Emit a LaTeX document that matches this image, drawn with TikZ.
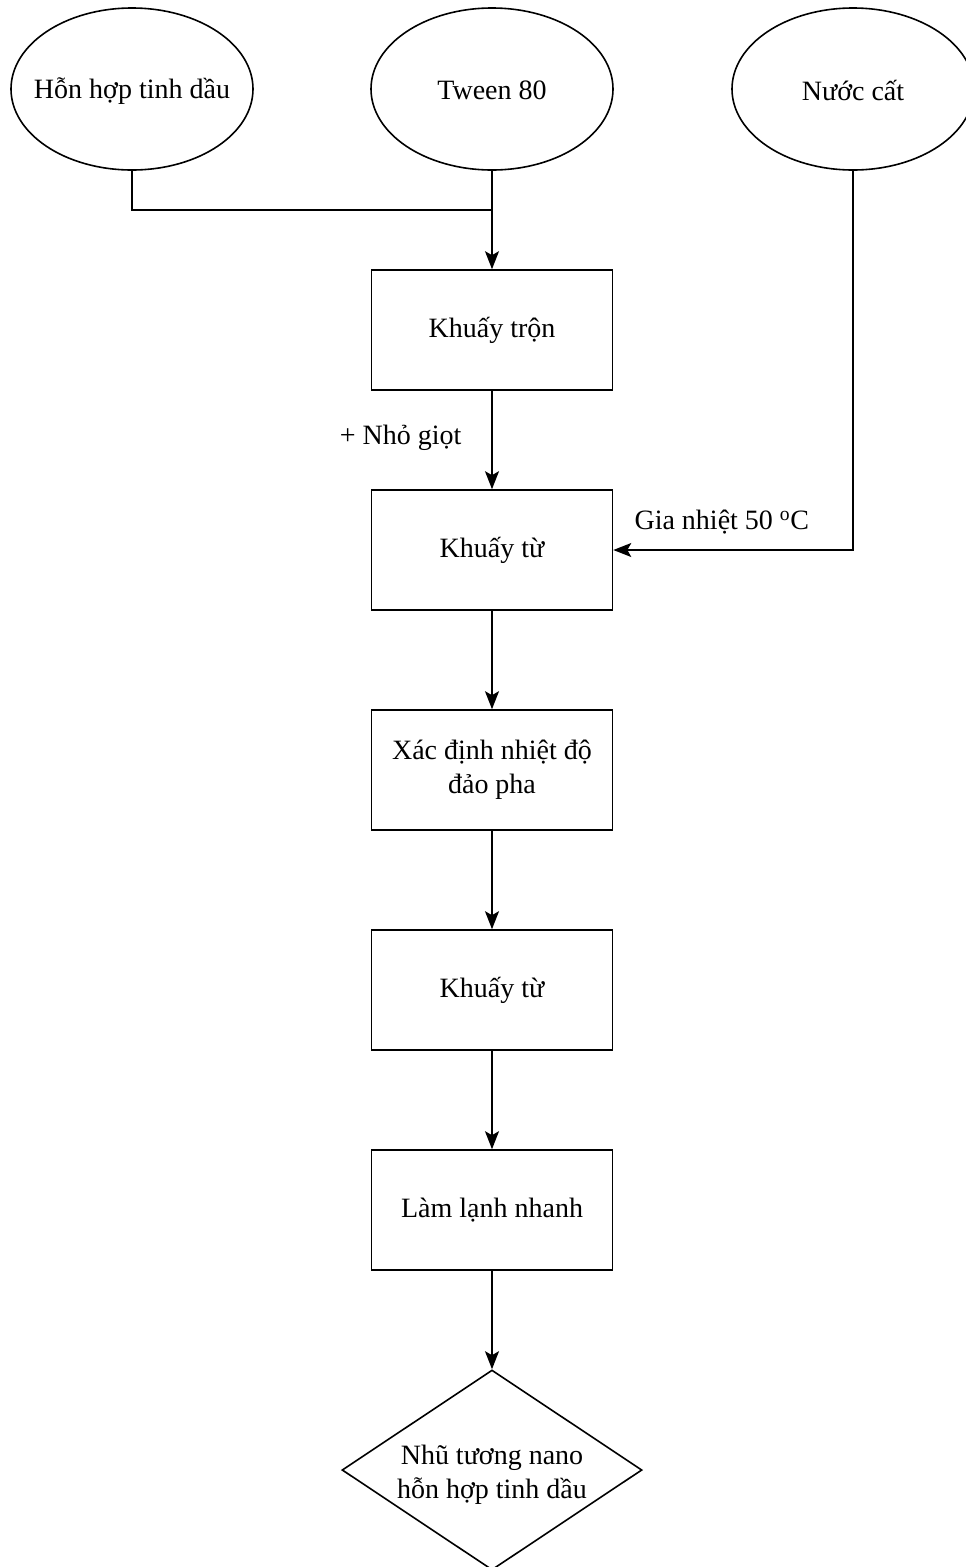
\documentclass[tikz,border=0pt]{standalone}
\usepackage{fontspec}
\setmainfont{Liberation Serif}
\usetikzlibrary{shapes.geometric,arrows.meta}
\begin{document}
\begin{tikzpicture}[x=1pt,y=-1pt,
  every node/.style={font=\fontsize{28}{34}\selectfont},
  box/.style={draw,line width=1.6pt,minimum width=241pt,minimum height=120pt,align=center,inner sep=0pt},
  oval/.style={draw,ellipse,line width=1.6pt,minimum width=242pt,minimum height=162pt,inner sep=0pt},
  dia/.style={draw,diamond,line width=1.6pt,minimum width=300pt,minimum height=200pt,inner sep=0pt,aspect=1.5},
  conn/.style={line width=1.6pt,-{Stealth[length=18pt,width=14pt,inset=4pt]}},
  plain/.style={line width=1.6pt}]
\useasboundingbox (0,0) rectangle (966,1567);
\node[oval] (a) at (132,89) {};
\node (at) at ([yshift=-2pt]a.center) {Hỗn hợp tinh dầu};
\node[oval] (b) at (492,89) {};
\node (bt) at ([yshift=-1pt]b.center) {Tween 80};
\node[oval] (c) at (853,89) {};
\node (ct) at ([yshift=-1pt]c.center) {Nước cất};
\node[box] (k1) at (492,330) {Khuấy trộn};
\node[box] (k2) at (492,550) {Khuấy từ};
\node[box] (k3) at (492,770) {Xác định nhiệt độ\\đảo pha};
\node[box] (k4) at (492,990) {Khuấy từ};
\node[box] (k5) at (492,1210) {Làm lạnh nhanh};
\node[dia] (d) at (492,1470) {};
\node[align=center] (dt) at ([yshift=-5pt]d.center) {Nhũ tương nano\\hỗn hợp tinh dầu};
\coordinate (j) at (492,210);
\draw[plain] (a.south) |- (j);
\draw[conn] (b.south) -- (k1.north);
\draw[conn] (k1.south) -- (k2.north);
\node[anchor=east] (n) at (465,438) {+ Nhỏ giọt};
\draw[conn] (c.south) |- (k2.east);
\node[anchor=west] (g) at (631,522) {Gia nhiệt 50 \textsuperscript{o}C};
\draw[conn] (k2.south) -- (k3.north);
\draw[conn] (k3.south) -- (k4.north);
\draw[conn] (k4.south) -- (k5.north);
\draw[conn] (k5.south) -- (d.north);
\end{tikzpicture}
\end{document}
